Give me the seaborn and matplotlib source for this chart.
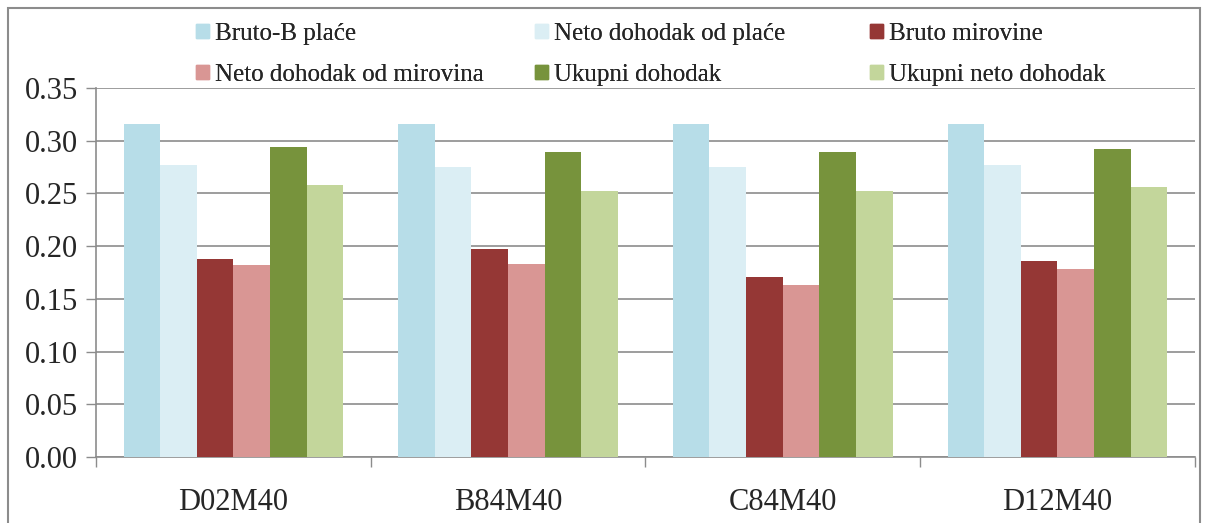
import pandas as pd
import numpy as np
import matplotlib.pyplot as plt
import matplotlib.patches as mpatches
import seaborn as sns

# %% data
scenarios = ['D02M40', 'B84M40', 'C84M40', 'D12M40']
series = ['Bruto-B plaće', 'Neto dohodak od plaće', 'Bruto mirovine',
          'Neto dohodak od mirovina', 'Ukupni dohodak', 'Ukupni neto dohodak']

bruto_b_place = [0.316, 0.316, 0.316, 0.316]
neto_place = [0.277, 0.275, 0.275, 0.277]
bruto_mirovine = [0.188, 0.197, 0.171, 0.186]
neto_mirovine = [0.182, 0.183, 0.163, 0.178]
ukupni = [0.294, 0.289, 0.289, 0.292]
ukupni_neto = [0.258, 0.252, 0.252, 0.256]

colors = ['#B7DDE8', '#DBEEF4', '#953735', '#D99694', '#77933C', '#C3D69B']

vals = [bruto_b_place, neto_place, bruto_mirovine, neto_mirovine, ukupni, ukupni_neto]
df = pd.DataFrame({
    'scenario': scenarios * len(series),
    'serija': np.repeat(series, len(scenarios)),
    'value': np.concatenate(vals),
})

# %% plot
sns.set_style('white')
plt.rcParams['font.family'] = ['Liberation Serif', 'DejaVu Serif']

fig = plt.figure(figsize=(12.08, 5.23), dpi=100)
ax = fig.add_axes([0.0795, 0.126, 0.9095, 0.706])

sns.barplot(data=df, x='scenario', y='value', hue='serija', order=scenarios,
            hue_order=series, palette=colors, width=0.8, linewidth=0,
            saturation=1, ax=ax, zorder=3, legend=False)

ax.set_ylim(0, 0.35)
ax.set_xlim(-0.5, 3.5)
ax.set_yticks(np.arange(0, 0.351, 0.05))
ax.set_yticklabels([f'{v:.2f}' for v in np.arange(0, 0.351, 0.05)])
ax.yaxis.grid(True, color='#8C8C8C', linewidth=1.2, zorder=0)
ax.set_axisbelow(True)
ax.set_xlabel('')
ax.set_ylabel('')

ax.set_xticks(range(len(scenarios)))
ax.set_xticks(np.arange(-0.5, 3.6, 1), minor=True)
ax.tick_params(axis='x', which='major', length=0, labelsize=22, pad=22)
ax.tick_params(axis='x', which='minor', length=7, color='#8C8C8C', width=1, direction='out')
ax.tick_params(axis='y', length=7, color='#8C8C8C', width=1, direction='out', labelsize=22, pad=6)
ax.tick_params(axis='x', bottom=True, which='both')
ax.tick_params(axis='y', left=True)

for s in ['top', 'right']:
    ax.spines[s].set_visible(False)
for s in ['left', 'bottom']:
    ax.spines[s].set_color('#8C8C8C')
    ax.spines[s].set_linewidth(1.2)

# legend: three columns placed like the original (row-wise order)
col_x = [196, 535, 870]
for k, x0 in enumerate(col_x):
    hs = [mpatches.Patch(color=colors[i], label=series[i]) for i in (k, k + 3)]
    leg = fig.legend(handles=hs, loc='upper left', bbox_to_anchor=(x0 / 1208, 1 - 23 / 523),
                     frameon=False, fontsize=18, handlelength=0.5, handleheight=0.5,
                     handletextpad=0.25, labelspacing=0.75, borderpad=0, borderaxespad=0)
    fig.add_artist(leg)

# outer frame
fig.patches.append(mpatches.Rectangle((8 / 1208, -0.05), 1192 / 1208, 1 - 8 / 523 + 0.05,
                                      transform=fig.transFigure, fill=False,
                                      edgecolor='#8C8C8C', linewidth=1.5))

plt.savefig('out.png', dpi=100)
